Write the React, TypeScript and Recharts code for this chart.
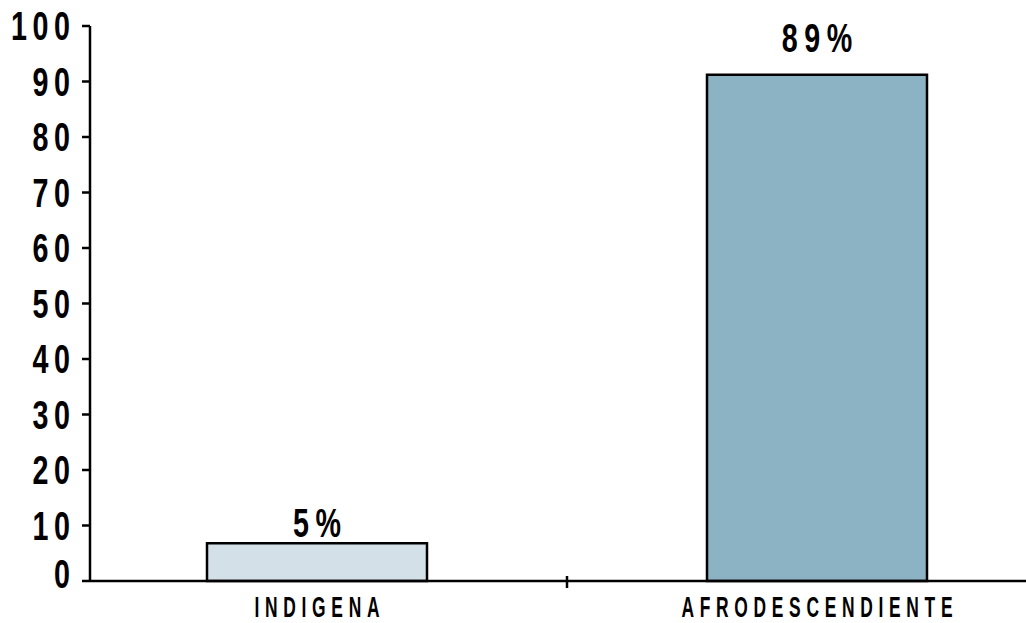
import { BarChart, Bar, XAxis, YAxis, Cell, LabelList } from 'recharts';

const categories = ['INDIGENA', 'AFRODESCENDIENTE'];
const barValues = [6.8, 91.2];
const valueLabels = ['5%', '89%'];
const yTicks = [0, 10, 20, 30, 40, 50, 60, 70, 80, 90, 100];
const barColors = ['#d3e0e7', '#8bb3c4'];

const data = categories.map((name, i) => ({ name, value: barValues[i], label: valueLabels[i] }));

const FONT = "'Liberation Sans', Arial, sans-serif";
const labelGap = [6, 23];

// condensed look: draw a regular bold font and squeeze it horizontally
function NarrowText(props: any) {
  const { x, y, anchor = 'middle', size, sx, spacing, children } = props;
  // letter-spacing also lands after the last glyph, undo that for the anchor
  const fix = anchor === 'end' ? spacing * sx : anchor === 'middle' ? (spacing * sx) / 2 : 0;
  return (
    <text
      transform={`translate(${x + fix},${y}) scale(${sx},1)`}
      x={0}
      y={0}
      textAnchor={anchor}
      fontFamily={FONT}
      fontWeight="bold"
      fontSize={size}
      letterSpacing={spacing}
      fill="#000"
    >
      {children}
    </text>
  );
}

function ValueTick(props: any) {
  const { x, y, payload } = props;
  const lift = payload.value === 0 ? 7 : 0;
  return (
    <NarrowText x={x} y={y + 14 - lift} anchor="end" size={41} sx={0.7} spacing={8}>
      {payload.value}
    </NarrowText>
  );
}

function CategoryTick(props: any) {
  const { x, y, payload, index } = props;
  const half = payload?.offset ?? 0;
  return (
    <g>
      {index > 0 && (
        <line x1={x - half} x2={x - half} y1={y - 5} y2={y + 7} stroke="#000" strokeWidth={2.5} />
      )}
      <NarrowText x={x} y={y + 36} size={29} sx={0.6} spacing={9.5}>
        {payload.value}
      </NarrowText>
    </g>
  );
}

function ValueLabel(props: any) {
  const { x, y, width, value, index } = props;
  return (
    <NarrowText x={x + width / 2} y={y - labelGap[index]} size={41} sx={0.7} spacing={9.5}>
      {value}
    </NarrowText>
  );
}

export default function App() {
  return (
    <div style={{ position: 'absolute', left: 0, top: 0, width: 1026, height: 623, background: '#fff' }}>
      <BarChart width={1026} height={623} data={data} margin={{ top: 26, right: 0, left: 0, bottom: 0 }}>
        <XAxis
          dataKey="name"
          interval={0}
          height={42}
          padding={{ left: -23, right: -41 }}
          axisLine={{ stroke: '#000', strokeWidth: 2.5 }}
          tickLine={false}
          tickSize={0}
          tickMargin={0}
          tick={<CategoryTick />}
        />
        <YAxis
          domain={[0, 100]}
          ticks={yTicks}
          width={90}
          tickSize={8}
          tickMargin={12}
          axisLine={{ stroke: '#000', strokeWidth: 2.5 }}
          tickLine={{ stroke: '#000', strokeWidth: 2.5 }}
          tick={<ValueTick />}
        />
        <Bar dataKey="value" barSize={220} stroke="#000" strokeWidth={2.5} isAnimationActive={false}>
          {data.map((_, i) => (
            <Cell key={`cell-${i}`} fill={barColors[i]} />
          ))}
          <LabelList dataKey="label" content={<ValueLabel />} />
        </Bar>
      </BarChart>
    </div>
  );
}
